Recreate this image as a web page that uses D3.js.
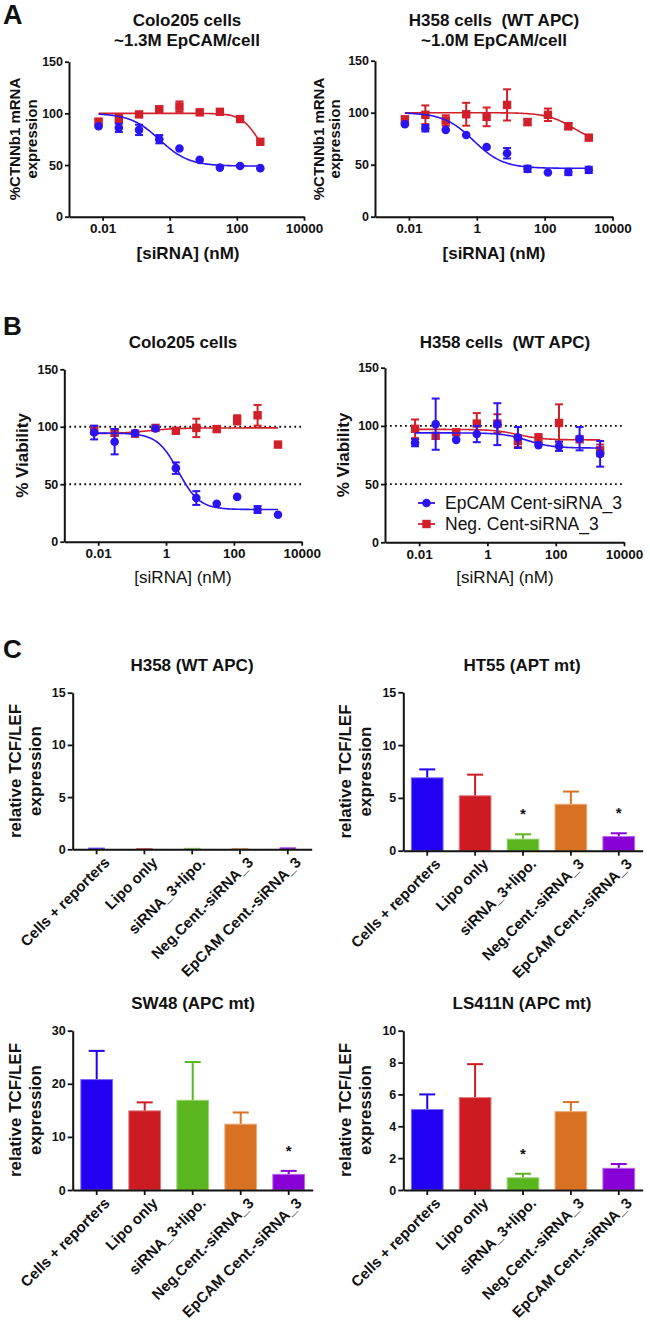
<!DOCTYPE html>
<html><head><meta charset="utf-8">
<script src="https://cdn.jsdelivr.net/npm/d3@7"></script>
<style>
body{margin:0;background:#fff}
svg{display:block}
text{font-family:"Liberation Sans",Arial,Helvetica,sans-serif}
</style>
</head><body>
<svg id="chart" width="650" height="1328"></svg>
<script>
// ---------------- DATA ----------------
const concentrations = [0.0076, 0.0305, 0.122, 0.488, 1.95, 7.81, 31.25, 125, 500, 2000];
const doseTicks = [0.01, 1, 100, 10000];
const doseTickLabels = ["0.01", "1", "100", "10000"];
const pctTicks = [0, 50, 100, 150];
const seriesNames = ["EpCAM Cent-siRNA_3", "Neg. Cent-siRNA_3"];

// Panel A – Colo205 (%CTNNb1 mRNA)
const aColoEp = [87.5, 86, 84, 75, 66, 55, 47.5, 49, 47];
const aColoEpErr = [0, 4, 5, 4, 0, 0, 0, 0, 0];
const aColoNeg = [92, 95, 99, 104, 106.5, 101, 101.5, 94.5, 72.5];
const aColoNegErr = [2, 4, 0, 0, 5, 0, 0, 0, 0];
// Panel A – H358
const aH358Ep = [89, 85, 83.5, 78.5, 67, 61, 46, 42.5, 43, 45];
const aH358EpErr = [0, 3, 0, 0, 0, 5, 3, 0, 3, 3];
const aH358Neg = [93.5, 98, 92.5, 98.5, 96, 107.5, 91, 98, 87, 76];
const aH358NegErr = [3, 9, 5, 11, 9, 15, 3, 6, 3, 0];
// Panel B – Colo205 (% viability)
const bColoEp = [95, 87, 94.5, 98.5, 64, 38, 33, 39, 28, 23.5];
const bColoEpErr = [6, 11, 0, 0, 5, 6, 0, 0, 3, 0];
const bColoNeg = [97, 95, 94, 99, 96.5, 99, 98, 106, 110, 84.5];
const bColoNegErr = [3, 3, 0, 0, 2, 8, 2, 4, 9, 0];
// Panel B – H358
const bH358Ep = [85.5, 101.5, 88, 93, 101.5, 90, 83.5, 82.5, 89, 76];
const bH358EpErr = [3, 22, 0, 7, 18, 9, 0, 4, 10, 11];
const bH358Neg = [97.5, 91.5, 94.5, 102, 102, 87, 89, 102.5, 88.5, 79];
const bH358NegErr = [8, 0, 0, 9, 8, 5, 4, 16, 0, 5];

// Fitted 4-parameter curves: [top, bottom, EC50 (nM), Hill slope]
const aColoEpFit = [100, 49, 0.5, 1];
const aColoNegFit = [100, 50, 434, 1.68];
const aH358EpFit = [100, 46.5, 0.8, 1];
const aH358NegFit = [100, 70, 727, 1.1];
const bColoEpFit = [94.5, 28, 2.3, 1.4];
const bColoNegFit = [94, 99, 0.3, 1];
const bH358EpFit = [94, 81, 15, 1.2];
const bH358NegFit = [97, 88, 8, 1.2];

// Panel C – TCF/LEF reporter
const categories = ["Cells + reporters", "Lipo only", "siRNA_3+lipo.", "Neg.Cent.-siRNA_3", "EpCAM Cent.-siRNA_3"];
const cH358 = [0.12, 0.08, 0.1, 0.08, 0.15];
const cH358Err = [0, 0, 0, 0, 0];
const cHT55 = [6.9, 5.2, 1.1, 4.4, 1.35];
const cHT55Err = [0.8, 2.0, 0.45, 1.2, 0.3];
const cHT55Sig = [0, 0, 1, 0, 1];
const cSW48 = [20.8, 14.9, 16.9, 12.4, 2.95];
const cSW48Err = [5.4, 1.6, 7.2, 2.2, 0.65];
const cSW48Sig = [0, 0, 0, 0, 1];
const cLS411N = [5.05, 5.8, 0.77, 4.92, 1.36];
const cLS411NErr = [0.95, 2.1, 0.25, 0.6, 0.27];
const cLS411NSig = [0, 0, 1, 0, 0];
const ticks15 = [0, 5, 10, 15];
const ticks30 = [0, 10, 20, 30];
const ticks10 = [0, 2, 4, 6, 8, 10];

// ---------------- STYLE ----------------
const BLUE = "#2b14f2", RED = "#d1202a";
const barColors = ["#2200f2", "#cc1b21", "#5bb51f", "#d87222", "#8700d6"];
const svg = d3.select("#chart");

function styleAxis(sel, fs) {
  sel.select(".domain").attr("stroke", "#111").attr("stroke-width", 2);
  sel.selectAll(".tick line").attr("stroke", "#111").attr("stroke-width", 1.8);
  sel.selectAll(".tick text").attr("fill", "#111").attr("font-size", fs).attr("font-weight", "bold")
    .style("font-family", '"Liberation Sans",Arial,sans-serif');
}

function addText(x, y, str, opts) {
  return svg.append("text").attr("x", x).attr("y", y).text(str)
    .attr("font-size", opts.size).attr("font-weight", opts.bold ? "bold" : "normal")
    .attr("text-anchor", opts.anchor || "middle").attr("fill", "#111")
    .style("white-space", "pre");
}

function yLabel(lines, xs, cy, size) {
  lines.forEach((l, i) => {
    svg.append("text").attr("transform", `translate(${xs[i]},${cy}) rotate(-90)`)
      .attr("text-anchor", "middle").attr("dy", "0.35em").attr("font-size", size)
      .attr("font-weight", "bold").attr("fill", "#111").text(l);
  });
}

function fourPL(p, c) { return p[1] + (p[0] - p[1]) / (1 + Math.pow(c / p[2], p[3])); }

function dosePanel(o) {
  const x = d3.scaleLog().domain([0.001, 10000]).range([o.x0, o.x1]);
  const y = d3.scaleLinear().domain([0, 150]).range([o.yb, o.yt]);
  const g = svg.append("g");
  if (o.dotted) o.dotted.forEach(v => {
    g.append("line").attr("x1", o.x0).attr("x2", o.x1).attr("y1", y(v)).attr("y2", y(v))
      .attr("stroke", "#111").attr("stroke-width", 1.8).attr("stroke-dasharray", "1.8,3.2");
  });
  const ya = g.append("g").attr("transform", `translate(${o.x0},0)`)
    .call(d3.axisLeft(y).tickValues(pctTicks).tickSize(4).tickSizeOuter(0).tickPadding(2));
  styleAxis(ya, 12.5);
  const xa = g.append("g").attr("transform", `translate(0,${o.yb})`)
    .call(d3.axisBottom(x).tickValues(doseTicks).tickFormat((d, i) => doseTickLabels[i])
      .tickSize(4).tickSizeOuter(0).tickPadding(3));
  styleAxis(xa, 13.5);

  o.series.forEach(s => {
    const xs = concentrations.slice(0, s.values.length);
    const lo = Math.log10(xs[0]), hi = Math.log10(xs[xs.length - 1]);
    const samples = d3.range(151).map(i => Math.pow(10, lo + (hi - lo) * i / 150));
    g.append("path").datum(samples)
      .attr("d", d3.line().x(d => x(d)).y(d => y(fourPL(s.fit, d))))
      .attr("fill", "none").attr("stroke", s.color).attr("stroke-width", 1.6);
    const pts = s.values.map((v, i) => ({ c: xs[i], v: v, e: s.errors[i] }));
    const eb = g.append("g").attr("stroke", s.color).attr("stroke-width", 2);
    pts.filter(p => p.e > 0).forEach(p => {
      const cx = x(p.c);
      eb.append("line").attr("x1", cx).attr("x2", cx).attr("y1", y(p.v - p.e)).attr("y2", y(p.v + p.e));
      [p.v - p.e, p.v + p.e].forEach(w => eb.append("line").attr("x1", cx - 4).attr("x2", cx + 4).attr("y1", y(w)).attr("y2", y(w)));
    });
    if (s.shape === "circle") {
      g.selectAll(null).data(pts).enter().append("circle")
        .attr("cx", p => x(p.c)).attr("cy", p => y(p.v)).attr("r", 4.3).attr("fill", s.color);
    } else {
      g.selectAll(null).data(pts).enter().append("rect")
        .attr("x", p => x(p.c) - 4.2).attr("y", p => y(p.v) - 4.2).attr("width", 8.4).attr("height", 8.4).attr("fill", s.color);
    }
  });
}

function barPanel(o) {
  const x = d3.scaleBand().domain(categories).range([o.x0, o.x1]);
  const y = d3.scaleLinear().domain([0, o.ymax]).range([o.yb, o.yt]);
  const g = svg.append("g");
  const cx = c => x(c) + x.bandwidth() / 2;
  categories.forEach((c, i) => {
    const v = o.values[i], e = o.errors[i], col = barColors[i];
    if (e > 0) {
      g.append("line").attr("x1", cx(c)).attr("x2", cx(c)).attr("y1", y(v)).attr("y2", y(v + e))
        .attr("stroke", col).attr("stroke-width", 2);
      g.append("line").attr("x1", cx(c) - 8).attr("x2", cx(c) + 8).attr("y1", y(v + e)).attr("y2", y(v + e))
        .attr("stroke", col).attr("stroke-width", 2);
    }
    g.append("rect").attr("x", cx(c) - o.bw / 2).attr("width", o.bw)
      .attr("y", y(v)).attr("height", Math.max(0.8, o.yb - y(v)))
      .attr("fill", col).attr("stroke", d3.interpolateRgb(col, "#ffffff")(0.4)).attr("stroke-width", 1);
    if (o.sig && o.sig[i]) {
      g.append("text").attr("x", cx(c)).attr("y", y(v + e) - 15).attr("text-anchor", "middle")
        .attr("font-size", 15).attr("font-weight", "bold").attr("fill", "#111").text("*");
    }
  });
  const ya = g.append("g").attr("transform", `translate(${o.x0},0)`)
    .call(d3.axisLeft(y).tickValues(o.ticks).tickSize(5).tickSizeOuter(0).tickPadding(2));
  styleAxis(ya, 12.5);
  const xa = g.append("g").attr("transform", `translate(0,${o.yb})`)
    .call(d3.axisBottom(x).tickSize(5).tickSizeOuter(0));
  styleAxis(xa, 15);
  xa.selectAll(".tick text").attr("text-anchor", "end").attr("dy", "0.35em")
    .attr("transform", "translate(4,4) rotate(-45)").attr("y", 9).attr("x", 0);
}

// ---------------- PANEL A ----------------
addText(3, 23.5, "A", { size: 27, bold: true, anchor: "start" });
addText(187, 26, "Colo205 cells", { size: 17, bold: true });
addText(187, 46, "~1.3M EpCAM/cell", { size: 17, bold: true });
addText(494, 26, "H358 cells  (WT APC)", { size: 17, bold: true });
addText(494, 46, "~1.0M EpCAM/cell", { size: 17, bold: true });

dosePanel({ x0: 69, x1: 304, yt: 61.7, yb: 216.7, series: [
  { values: aColoNeg, errors: aColoNegErr, fit: aColoNegFit, color: RED, shape: "square" },
  { values: aColoEp, errors: aColoEpErr, fit: aColoEpFit, color: BLUE, shape: "circle" }] });
dosePanel({ x0: 375, x1: 612.5, yt: 60.7, yb: 216.7, series: [
  { values: aH358Neg, errors: aH358NegErr, fit: aH358NegFit, color: RED, shape: "square" },
  { values: aH358Ep, errors: aH358EpErr, fit: aH358EpFit, color: BLUE, shape: "circle" }] });
yLabel(["%CTNNb1 mRNA", "expression"], [15, 32], 139, 15);
yLabel(["%CTNNb1 mRNA", "expression"], [318.5, 335], 139, 15);
addText(188, 259, "[siRNA] (nM)", { size: 17, bold: true });
addText(494, 259, "[siRNA] (nM)", { size: 17, bold: true });

// ---------------- PANEL B ----------------
addText(3, 335, "B", { size: 26, bold: true, anchor: "start" });
addText(183, 348, "Colo205 cells", { size: 17, bold: true });
addText(505, 348, "H358 cells  (WT APC)", { size: 17, bold: true });
dosePanel({ x0: 64.3, x1: 301.7, yt: 369.3, yb: 541.7, dotted: [100, 50], series: [
  { values: bColoNeg, errors: bColoNegErr, fit: bColoNegFit, color: RED, shape: "square" },
  { values: bColoEp, errors: bColoEpErr, fit: bColoEpFit, color: BLUE, shape: "circle" }] });
dosePanel({ x0: 385, x1: 624, yt: 367.7, yb: 542.3, dotted: [100, 50], series: [
  { values: bH358Neg, errors: bH358NegErr, fit: bH358NegFit, color: RED, shape: "square" },
  { values: bH358Ep, errors: bH358EpErr, fit: bH358EpFit, color: BLUE, shape: "circle" }] });
yLabel(["% Viability"], [21.7], 455.5, 17);
yLabel(["% Viability"], [343.3], 455, 17);
addText(183, 583, "[siRNA] (nM)", { size: 17, bold: false });
addText(505, 583, "[siRNA] (nM)", { size: 17, bold: false });
// legend
[BLUE, RED].forEach((col, i) => {
  const ly = 503 + i * 21;
  svg.append("line").attr("x1", 418).attr("x2", 435).attr("y1", ly).attr("y2", ly).attr("stroke", col).attr("stroke-width", 1.8);
  if (i === 0) svg.append("circle").attr("cx", 426.5).attr("cy", ly).attr("r", 4.3).attr("fill", col);
  else svg.append("rect").attr("x", 422.3).attr("y", ly - 4.2).attr("width", 8.4).attr("height", 8.4).attr("fill", col);
  svg.append("text").attr("x", 445).attr("y", ly).attr("dy", "0.35em").attr("font-size", 17.5)
    .attr("fill", "#111").text(seriesNames[i]);
});

// ---------------- PANEL C ----------------
addText(3, 658, "C", { size: 26, bold: true, anchor: "start" });
addText(192, 671, "H358 (WT APC)", { size: 17, bold: true });
addText(522, 671, "HT55 (APT mt)", { size: 17, bold: true });
addText(193, 1009, "SW48 (APC mt)", { size: 17, bold: true });
addText(522, 1009, "LS411N (APC mt)", { size: 17, bold: true });

barPanel({ x0: 72.7, x1: 311.7, yt: 692.7, yb: 849.3, ymax: 15, ticks: ticks15, bw: 15.7, values: cH358, errors: cH358Err });
barPanel({ x0: 403.3, x1: 642.7, yt: 692.3, yb: 850.7, ymax: 15, ticks: ticks15, bw: 31.7, values: cHT55, errors: cHT55Err, sig: cHT55Sig });
barPanel({ x0: 72.7, x1: 312.7, yt: 1030.7, yb: 1190, ymax: 30, ticks: ticks30, bw: 31.7, values: cSW48, errors: cSW48Err, sig: cSW48Sig });
barPanel({ x0: 403.3, x1: 642.7, yt: 1030.7, yb: 1190, ymax: 10, ticks: ticks10, bw: 31.7, values: cLS411N, errors: cLS411NErr, sig: cLS411NSig });
yLabel(["relative TCF/LEF", "expression"], [15, 35], 771, 17);
yLabel(["relative TCF/LEF", "expression"], [345, 365], 771.5, 17);
yLabel(["relative TCF/LEF", "expression"], [15, 35], 1110, 17);
yLabel(["relative TCF/LEF", "expression"], [345, 365], 1110, 17);
</script>
</body></html>
